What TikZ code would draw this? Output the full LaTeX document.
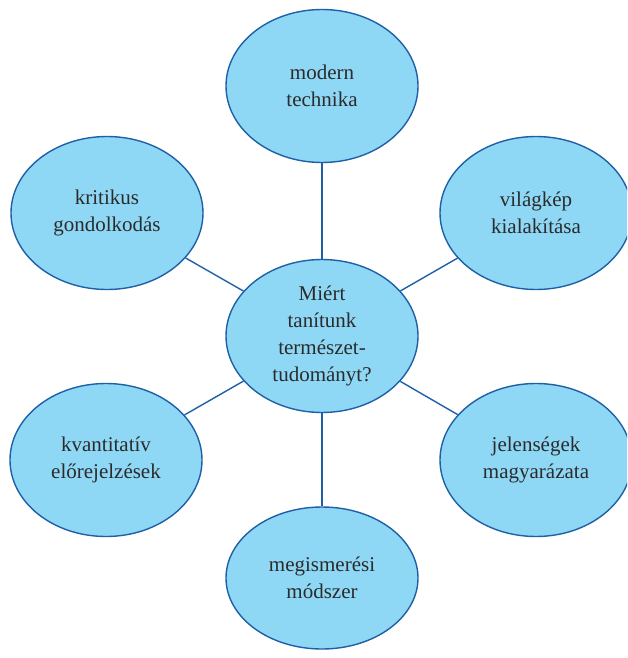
\documentclass[tikz,border=0pt]{standalone}
\usepackage{fontspec}
\setmainfont{Liberation Serif}
\usetikzlibrary{shapes.geometric}
\definecolor{bubblefill}{HTML}{8ED8F6}
\definecolor{bubbleline}{HTML}{1F5FA6}
\definecolor{bubbletext}{HTML}{2B2B2B}
\tikzset{
  bubble/.style={ellipse, draw=bubbleline, fill=bubblefill, line width=1.4pt,
    minimum width=192pt, minimum height=153pt, inner sep=0pt, align=center,
    text=bubbletext, font=\fontsize{21}{27}\selectfont},
  link/.style={draw=bubbleline, line width=1.4pt}
}
\begin{document}
\begin{tikzpicture}[x=1pt,y=-1pt]
\useasboundingbox (0,0) rectangle (627,658);
\begin{scope}
\clip (0,0) rectangle (627,658);
\node[bubble] (c) at (322,336) {Miért\\tanítunk\\természet-\\tudományt?};
\node[bubble] (t) at (322,86) {modern\\technika};
\node[bubble] (tl) at (107,213) {kritikus\\gondolkodás};
\node[bubble] (tr) at (536,213) {világkép\\kialakítása};
\node[bubble] (bl) at (106,460) {kvantitatív\\előrejelzések};
\node[bubble] (br) at (536,460) {jelenségek\\magyarázata};
\node[bubble, minimum height=142pt] (b) at (322,578) {megismerési\\módszer};
\begin{scope}[on background layer/.try]
\end{scope}
\draw[link] (c) -- (t);
\draw[link] (c) -- (tl);
\draw[link] (c) -- (tr);
\draw[link] (c) -- (bl);
\draw[link] (c) -- (br);
\draw[link] (c) -- (b);
\end{scope}
\end{tikzpicture}
\end{document}
